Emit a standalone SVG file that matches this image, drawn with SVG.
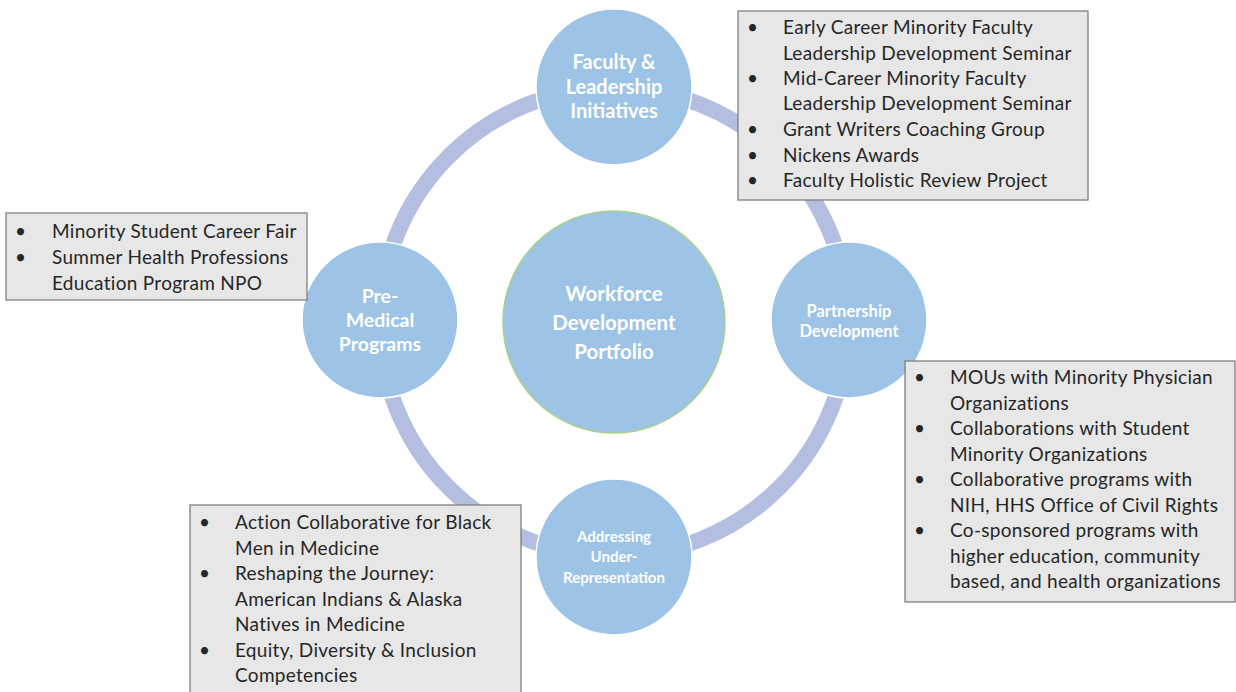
<svg xmlns="http://www.w3.org/2000/svg" width="1236" height="692" viewBox="0 0 1236 692">
<style>
.box{fill:#e7e7e7;stroke:#7f7f7f;stroke-width:1.3}
.node{fill:#9dc3e6;stroke:#ffffff;stroke-width:1.5}
.ct{font-family:Lato,"Open Sans",sans-serif;font-weight:bold;fill:#ffffff;text-anchor:middle}
.bt{font-family:Lato,"Open Sans",sans-serif;font-size:19px;letter-spacing:0.3px;fill:#262626}
</style>
<rect width="1236" height="692" fill="#ffffff"/>
<g id="connectors">
<circle cx="614" cy="322" r="234" fill="none" stroke="#b4bee0" stroke-width="16"/>
</g>
<g id="center">
<circle cx="614" cy="322" r="111" fill="#9dc3e6" stroke="#a9d18e" stroke-width="1.5"/>
<text class="ct" font-size="20.5" x="614" y="301">Workforce</text>
<text class="ct" font-size="20.5" x="614" y="330">Development</text>
<text class="ct" font-size="20.5" x="614" y="359">Portfolio</text>
</g>
<g id="faculty">
<circle class="node" cx="614" cy="87" r="78"/>
<text class="ct" font-size="20" x="614" y="69">Faculty &amp;</text>
<text class="ct" font-size="20" x="614" y="94">Leadership</text>
<text class="ct" font-size="20" x="614" y="118">Initiatives</text>
</g>
<g id="partnership">
<circle class="node" cx="849" cy="320" r="78"/>
<text class="ct" font-size="16.5" x="849" y="317">Partnership</text>
<text class="ct" font-size="16.5" x="849" y="337">Development</text>
</g>
<g id="addressing">
<circle class="node" cx="614" cy="557" r="78"/>
<text class="ct" font-size="15" x="614" y="542">Addressing</text>
<text class="ct" font-size="15" x="614" y="562">Under-</text>
<text class="ct" font-size="15" x="614" y="583">Representation</text>
</g>
<g id="premedical">
<circle class="node" cx="380" cy="320" r="78"/>
<text class="ct" font-size="19.5" x="380" y="303">Pre-</text>
<text class="ct" font-size="19.5" x="380" y="327">Medical</text>
<text class="ct" font-size="19.5" x="380" y="351">Programs</text>
</g>
<g id="box-faculty">
<rect class="box" x="738" y="11" width="350" height="189"/>
<g class="bt">
<text x="747" y="34">•</text><text x="783" y="34">Early Career Minority Faculty</text>
<text x="783" y="60">Leadership Development Seminar</text>
<text x="747" y="85">•</text><text x="783" y="85">Mid-Career Minority Faculty</text>
<text x="783" y="110">Leadership Development Seminar</text>
<text x="747" y="136">•</text><text x="783" y="136">Grant Writers Coaching Group</text>
<text x="747" y="162">•</text><text x="783" y="162">Nickens Awards</text>
<text x="747" y="187">•</text><text x="783" y="187">Faculty Holistic Review Project</text>
</g>
</g>
<g id="box-premedical">
<rect class="box" x="6" y="213" width="301" height="87"/>
<g class="bt">
<text x="15" y="238">•</text><text x="52" y="238">Minority Student Career Fair</text>
<text x="15" y="264">•</text><text x="52" y="264">Summer Health Professions</text>
<text x="52" y="290">Education Program NPO</text>
</g>
</g>
<g id="box-partnership">
<rect class="box" x="905" y="361" width="330" height="241"/>
<g class="bt">
<text x="914" y="384">•</text><text x="950" y="384">MOUs with Minority Physician</text>
<text x="950" y="410">Organizations</text>
<text x="914" y="435">•</text><text x="950" y="435">Collaborations with Student</text>
<text x="950" y="461">Minority Organizations</text>
<text x="914" y="486">•</text><text x="950" y="486">Collaborative programs with</text>
<text x="950" y="512">NIH, HHS Office of Civil Rights</text>
<text x="914" y="537">•</text><text x="950" y="537">Co-sponsored programs with</text>
<text x="950" y="563">higher education, community</text>
<text x="950" y="588">based, and health organizations</text>
</g>
</g>
<g id="box-addressing">
<rect class="box" x="190" y="505" width="331" height="200"/>
<g class="bt">
<text x="199" y="529">•</text><text x="235" y="529">Action Collaborative for Black</text>
<text x="235" y="555">Men in Medicine</text>
<text x="199" y="580">•</text><text x="235" y="580">Reshaping the Journey:</text>
<text x="235" y="606">American Indians &amp; Alaska</text>
<text x="235" y="631">Natives in Medicine</text>
<text x="199" y="657">•</text><text x="235" y="657">Equity, Diversity &amp; Inclusion</text>
<text x="235" y="682">Competencies</text>
</g>
</g>
</svg>
